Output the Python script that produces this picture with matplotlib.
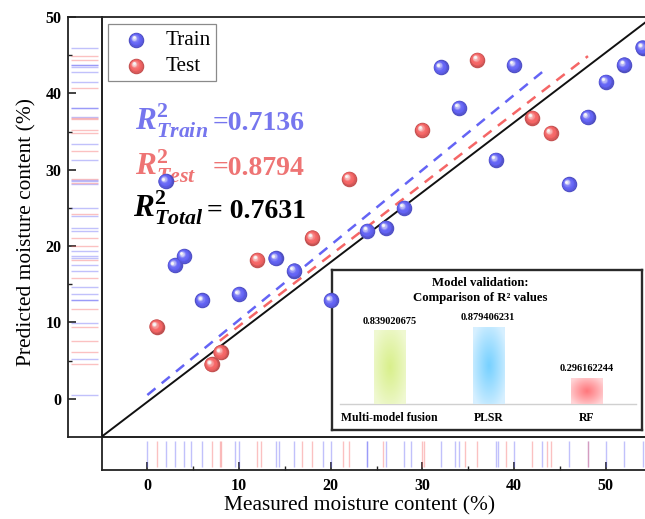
import numpy as np
import matplotlib
matplotlib.use("Agg")
import matplotlib.pyplot as plt
from matplotlib.colors import to_rgb
from matplotlib.transforms import ScaledTranslation
from matplotlib.patches import Rectangle

plt.rcParams["font.family"] = ["Liberation Serif", "DejaVu Serif"]
plt.rcParams["mathtext.fontset"] = "custom"
plt.rcParams["mathtext.rm"] = "Liberation Serif"
plt.rcParams["mathtext.it"] = "Liberation Serif:italic"
plt.rcParams["mathtext.bf"] = "Liberation Serif:bold"
plt.rcParams["mathtext.bfit"] = "Liberation Serif:bold:italic"

# ---------------- data ----------------
train_measured = [2, 3, 4, 6, 10, 14, 16, 20, 24, 26, 28, 32, 34, 38, 40, 46, 48, 50, 52, 54]
train_predicted = [28.5, 17.5, 18.7, 12.9, 13.7, 18.4, 16.8, 12.9, 22.0, 22.4, 25.0,
                   43.4, 38.1, 31.3, 43.7, 28.1, 36.9, 41.5, 43.75, 46.0]
test_measured = [1, 7, 8, 12, 18, 22, 30, 36, 42, 44]
test_predicted = [9.45, 4.5, 6.1, 18.2, 21.1, 28.8, 35.2, 44.4, 36.8, 34.8]

# fitted regression lines: slope, intercept, x-range
train_fit = dict(slope=0.9822, intercept=0.5, x0=0.0, x1=43.07)
test_fit = dict(slope=0.9285, intercept=0.265, x0=7.9, x1=48.05)
total_fit = dict(slope=0.915, intercept=-0.4)
fit_samples = 10

r2_train = 0.7136
r2_test = 0.8794
r2_total = 0.7631

models = ["Multi-model fusion", "PLSR", "RF"]
model_r2 = [0.839020675, 0.879406231, 0.296162244]

# ---------------- style ----------------
BLUE = "#6464F5"
RED = "#F56666"
BLUE_TXT = "#7676EE"
RED_TXT = "#EE7474"
SPINE = "#222222"

W, H = 645, 519
fig = plt.figure(figsize=(W / 100, H / 100), dpi=100)


def px_rect(l, t, r, b):
    return [l / W, 1 - b / H, (r - l) / W, (b - t) / H]


XLIM = (-5, 54.27)
YLIM = (-5, 50)

ax_in = fig.add_axes(px_rect(331.5, 270, 642, 430), zorder=1)
ax = fig.add_axes(px_rect(101.5, 17, 645, 437), zorder=2)
ax_l = fig.add_axes(px_rect(68, 17, 101.5, 437), zorder=0)
ax_b = fig.add_axes(px_rect(101.5, 437, 645, 470), zorder=0)

ax.set_xlim(*XLIM)
ax.set_ylim(*YLIM)
ax.patch.set_alpha(0)
ax.tick_params(length=0, labelbottom=False, labelleft=False)
for s in ["left", "top", "bottom"]:
    ax.spines[s].set_color(SPINE)
    ax.spines[s].set_linewidth(1.3)
ax.spines["right"].set_visible(False)


def draw_balls(axis, x, y, color, size_px=15.5, transform=None, z=5):
    if transform is None:
        transform = axis.transData
    base = np.array(to_rgb(color))
    dark = base * 0.78
    white = np.ones(3)
    n = 12
    R_in = size_px / 2 / 100.0
    d_pt = size_px * 0.72
    for i in range(n):
        f = i / (n - 1)
        r = 1 - 0.82 * f
        c1 = dark + (base - dark) * min(f / 0.35, 1)
        g = max(0.0, (f - 0.45) / 0.55) ** 1.6
        c = c1 * (1 - g) + white * g * 0.97
        off = (1 - r) * 0.42 * R_in
        tr = transform + ScaledTranslation(-off, off, fig.dpi_scale_trans)
        axis.scatter(x, y, s=(d_pt * r) ** 2, color=[tuple(np.clip(c, 0, 1))],
                     transform=tr, lw=0, zorder=z + i * 0.01, clip_on=False)


# total fit across the whole frame
xs = np.array(XLIM)
ax.plot(xs, total_fit["slope"] * xs + total_fit["intercept"], color="#111111", lw=1.4, zorder=3)


def fit_points(fit):
    fx = np.linspace(fit["x0"], fit["x1"], fit_samples)
    return fx, fit["slope"] * fx + fit["intercept"]


tfx, tfy = fit_points(train_fit)
sfx, sfy = fit_points(test_fit)
ax.plot(tfx, tfy, color=BLUE, lw=1.8, ls=(0, (4.2, 3.2)), zorder=3)
ax.plot(sfx, sfy, color=RED, lw=1.8, ls=(0, (4.2, 3.2)), zorder=3)

draw_balls(ax, train_measured, train_predicted, BLUE, z=5)
draw_balls(ax, test_measured, test_predicted, RED, z=6)

# legend
ax.add_patch(Rectangle((0.012, 0.848), 0.199, 0.135, transform=ax.transAxes,
                       facecolor="white", edgecolor="#8a8a8a", lw=0.9, zorder=8))
draw_balls(ax, [0.064], [0.945], BLUE, transform=ax.transAxes, z=9)
draw_balls(ax, [0.064], [0.883], RED, transform=ax.transAxes, z=9)
ax.text(0.118, 0.945, "Train", transform=ax.transAxes, fontsize=15.3, va="center", ha="left", zorder=10)
ax.text(0.118, 0.883, "Test", transform=ax.transAxes, fontsize=15.3, va="center", ha="left", zorder=10)

# R² annotations: symbol and value set separately
r2_rows = [
    (r"$\mathbfit{R}^{\mathbf{2}}_{\mathbfit{Train}}$", f"={r2_train:.4f}", BLUE_TXT, 35.2, -1.4, 7.12),
    (r"$\mathbfit{R}^{\mathbf{2}}_{\mathbfit{Test}}$", f"={r2_test:.4f}", RED_TXT, 29.3, -1.4, 7.12),
    (r"$\mathbfit{R}^{\mathbf{2}}_{\mathbfit{Total}}$", f"= {r2_total:.4f}", "black", 23.7, -1.6, 6.55),
]
for sym, val, col, yb, xs0, xv in r2_rows:
    ax.text(xs0, yb, sym, color=col, fontsize=22.5, ha="left", va="baseline", zorder=4)
    ax.text(xv, yb, val, color=col, fontsize=20, fontweight="bold", ha="left",
            va="baseline", zorder=4)

# ---------------- marginal rugs ----------------
rug_kw = dict(lw=1.0, alpha=0.4)

ax_l.set_xlim(0, 1)
ax_l.set_ylim(*YLIM)
ax_l.hlines(np.concatenate([train_predicted, tfy]), 0.09, 0.9, color=BLUE, **rug_kw)
ax_l.hlines(np.concatenate([test_predicted, sfy]), 0.09, 0.9, color=RED, **rug_kw)
ax_l.set_yticks(np.arange(0, 51, 10))
ax_l.set_yticks(np.arange(5, 50, 10), minor=True)
ax_l.set_xticks([])
ax_l.tick_params(axis="y", which="major", direction="in", length=5.5, width=1.2, pad=4.5,
                 labelsize=11.5, color=SPINE)
ax_l.tick_params(axis="y", which="minor", direction="in", length=3, width=1.0, color=SPINE)
for lab in ax_l.get_yticklabels():
    lab.set_fontweight("bold")
for s in ax_l.spines.values():
    s.set_color(SPINE)
    s.set_linewidth(1.3)

ax_b.set_xlim(*XLIM)
ax_b.set_ylim(0, 1)
ax_b.vlines(np.concatenate([train_measured, tfx]), 0.09, 0.88, color=BLUE, **rug_kw)
ax_b.vlines(np.concatenate([test_measured, sfx]), 0.09, 0.88, color=RED, **rug_kw)
ax_b.set_xticks(np.arange(0, 51, 10))
ax_b.set_xticks(np.arange(5, 50, 10), minor=True)
ax_b.set_yticks([])
ax_b.tick_params(axis="x", which="major", direction="in", length=5.5, width=1.2, pad=6,
                 labelsize=11.5, color=SPINE)
ax_b.tick_params(axis="x", which="minor", direction="in", length=3, width=1.0, color=SPINE)
for lab in ax_b.get_xticklabels():
    lab.set_fontweight("bold")
for s in ["left", "top", "bottom"]:
    ax_b.spines[s].set_color(SPINE)
    ax_b.spines[s].set_linewidth(1.3)
ax_b.spines["right"].set_visible(False)

fig.text(360 / W, 1 - 506 / H, "Measured moisture content (%)", fontsize=15.4,
         ha="center", va="center")
fig.text(27 / W, 1 - 232 / H, "Predicted moisture content (%)", fontsize=15.4,
         ha="center", va="center", rotation=90)

# ---------------- inset: model comparison ----------------
bar_w = 0.32
bar_colors = [((0.85, 0.94, 0.55), (0.94, 0.975, 0.82)),
              ((0.47, 0.82, 1.00), (0.84, 0.94, 1.00)),
              ((1.00, 0.47, 0.49), (1.00, 0.83, 0.84))]
gy, gx = np.mgrid[0:1:80j, 0:1:30j]
dist = np.clip(np.sqrt(((gx - 0.5) * 2) ** 2 + ((gy - 0.5) * 2) ** 2) / 1.25, 0, 1)
for i, (v, (c_in, c_out)) in enumerate(zip(model_r2, bar_colors)):
    c_in = np.array(c_in)
    c_out = np.array(c_out)
    t = dist[..., None] ** 1.1
    img = c_in * (1 - t) + c_out * t
    ax_in.imshow(img, extent=(i - bar_w / 2, i + bar_w / 2, 0, v), aspect="auto",
                 origin="lower", interpolation="bilinear", zorder=2)
    ax_in.text(i, v + 0.055, f"{v:.9f}", ha="center", va="bottom", fontsize=7.5,
               fontweight="bold", zorder=3)
    ax_in.text(i, -0.157, models[i], ha="center", va="center", fontsize=8.5,
               fontweight="bold", zorder=3)

ax_in.plot([-0.5, 2.5], [0, 0], color="#d0d0d0", lw=1.0, zorder=1)
ax_in.text(0.92, 1.297, "Model validation:\nComparison of R² values", ha="center",
           va="center", fontsize=9.2, fontweight="bold", linespacing=1.25)
ax_in.set_xlim(-0.591, 2.56)
ax_in.set_ylim(-0.297, 1.531)
ax_in.set_xticks([])
ax_in.set_yticks([])
for s in ax_in.spines.values():
    s.set_color("#2a2a2a")
    s.set_linewidth(1.7)

fig.savefig("out.png", dpi=100)
